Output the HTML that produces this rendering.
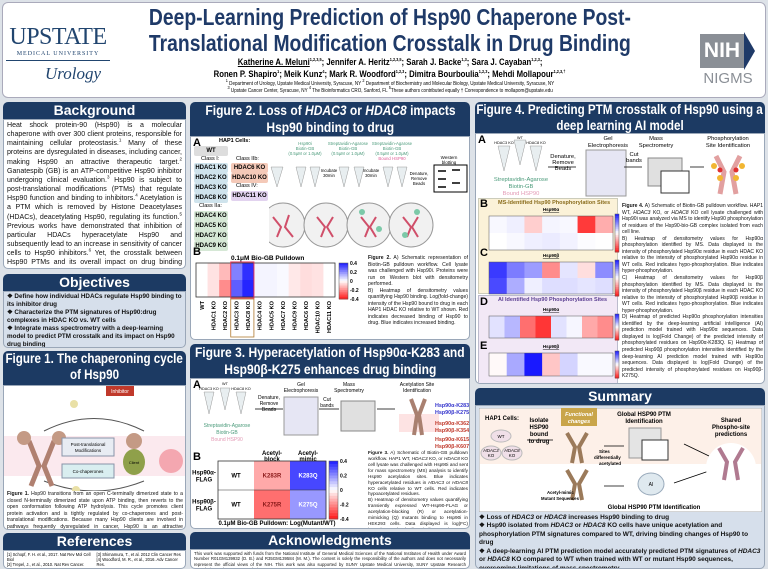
<!DOCTYPE html>
<html><head><meta charset="utf-8">
<style>
*{box-sizing:border-box;margin:0;padding:0}
body{width:768px;height:569px;overflow:hidden;background:#dde2e8;font-family:"Liberation Sans",sans-serif;position:relative}
sup{line-height:0;font-size:4.5px;vertical-align:super}
.abs{position:absolute}
.hdr{position:absolute;background:#1c3a63;color:#fff;font-weight:bold;text-align:center;border-radius:5px 5px 0 0;line-height:1.18;overflow:hidden}
.ln{display:flex;justify-content:center;white-space:nowrap}
.ln>span{display:inline-block;white-space:nowrap;transform:scaleX(.86);transform-origin:center;flex:none}
.pan{position:absolute;background:#fff;border:1px solid #9aa7b8;border-radius:0 0 5px 5px;overflow:hidden}
.txt{font-size:5.8px;line-height:1.3;text-align:justify;color:#111}
.body{font-size:8.2px;line-height:1.31;text-align:justify;color:#111}
.bul{font-size:7.6px;font-weight:bold;line-height:1.25;color:#111}
.tag{position:absolute;font-size:6px;font-weight:bold;text-align:center;border-radius:2px;height:10px;line-height:10px;white-space:nowrap}
</style></head><body>
<!-- Header -->
<div class="abs" style="left:2px;top:2px;width:764px;height:96px;background:#fff;border:1px solid #aab;border-radius:6px"></div>
<div class="abs" style="left:6px;top:24px;width:104px;text-align:center;color:#21456f">
 <div style="font-family:'Liberation Serif',serif;font-size:24px;letter-spacing:-0.5px">UPSTATE</div>
 <div style="font-family:'Liberation Serif',serif;font-size:6px;letter-spacing:1px;border-bottom:1px solid #21456f;padding-bottom:3px">MEDICAL UNIVERSITY</div>
 <div style="font-family:'Liberation Serif',serif;font-style:italic;font-size:17px;margin-top:3px;padding-left:30px">Urology</div>
</div>
<div class="abs" style="left:90px;top:4px;width:600px;color:#1f3a68;font-size:23px;font-weight:bold;line-height:26px"><div class="ln"><span style="transform:scaleX(.84)">Deep-Learning Prediction of Hsp90 Chaperone Post-</span></div><div class="ln"><span style="transform:scaleX(.84)">Translational Modification Crosstalk in Drug Binding</span></div></div>
<div class="abs" style="left:90px;top:56px;width:600px;font-size:9px;font-weight:bold;line-height:12px"><div class="ln"><span><u>Katherine A. Meluni</u><sup>1,2,3,5</sup>; Jennifer A. Heritz<sup>1,2,3,5</sup>; Sarah J. Backe<sup>1,3</sup>; Sara J. Cayaban<sup>1,2,3</sup>;</span></div><div class="ln"><span>Ronen P. Shapiro<sup>1</sup>; Meik Kunz<sup>4</sup>; Mark R. Woodford<sup>1,2,3</sup>; Dimitra Bourboulia<sup>1,2,3</sup>; Mehdi Mollapour<sup>1,2,3,†</sup></span></div></div>
<div class="abs" style="left:90px;top:81px;width:600px;font-size:5.3px;line-height:7px"><div class="ln"><span><sup>1</sup> Department of Urology, Upstate Medical University, Syracuse, NY <sup>2</sup> Department of Biochemistry and Molecular Biology, Upstate Medical University, Syracuse, NY</span></div><div class="ln"><span><sup>3</sup> Upstate Cancer Center, Syracuse, NY <sup>4</sup> The Bioinformatics CRO, Sanford, FL <sup>5</sup>These authors contributed equally † Correspondence to mollapom@upstate.edu</span></div></div>
<div class="abs" style="left:700px;top:34px;width:44px;height:34px;background:#8a8f96;color:#fff;font-size:21px;font-weight:bold;text-align:center;line-height:34px">NIH</div>
<div class="abs" style="left:744px;top:32px;width:0;height:0;border-top:19px solid transparent;border-bottom:19px solid transparent;border-left:11px solid #1f3a68"></div>
<div class="abs" style="left:698px;top:70px;width:60px;text-align:center;color:#8a8f96;font-size:15px">NIGMS</div>

<!-- Column 1 -->
<div class="hdr" style="left:3px;top:102px;width:183px;height:17px;font-size:14px">Background</div>
<div class="pan" style="left:3px;top:119px;width:183px;height:150px;padding:1px 3px"><div class="body" style="font-size:7.05px;line-height:1.3">Heat shock protein-90 (Hsp90) is a molecular chaperone with over 300 client proteins, responsible for maintaining cellular proteostasis.<sup>1</sup> Many of these proteins are dysregulated in diseases, including cancer, making Hsp90 an attractive therapeutic target.<sup>2</sup> Ganatespib (GB) is an ATP-competitive Hsp90 inhibitor undergoing clinical evaluation.<sup>3</sup> Hsp90 is subject to post-translational modifications (PTMs) that regulate Hsp90 function and binding to inhibitors.<sup>4</sup> Acetylation is a PTM which is removed by Histone Deacetylases (HDACs), deacetylating Hsp90, regulating its function.<sup>5</sup> Previous works have demonstrated that inhibition of particular HDACs hyperacetylate Hsp90 and subsequently lead to an increase in sensitivity of cancer cells to Hsp90 inhibitors.<sup>6</sup> Yet, the crosstalk between Hsp90 PTMs and its overall impact on drug binding remains largely unexplored.</div></div>
<div class="hdr" style="left:3px;top:274px;width:183px;height:17px;font-size:14px">Objectives</div>
<div class="pan" style="left:3px;top:291px;width:183px;height:57px;background:#d6dfeb;padding:1px 3px"><div class="bul" style="font-size:6.3px;line-height:1.27">❖ Define how individual HDACs regulate Hsp90 binding to its inhibitor drug<br>❖ Characterize the PTM signatures of Hsp90:drug complexes in HDAC KO vs. WT cells<br>❖ Integrate mass spectrometry with a deep-learning model to predict PTM crosstalk and its impact on Hsp90 drug binding</div></div>
<div class="hdr" style="left:3px;top:351px;width:183px;height:34px;font-size:13.5px"><div class="ln"><span>Figure 1. The chaperoning cycle</span></div><div class="ln"><span>of Hsp90</span></div></div>
<div class="pan" style="left:3px;top:385px;width:183px;height:145px">
 <svg class="abs" style="left:0;top:0" width="181" height="105">
  <rect x="0" y="50" width="181" height="40" fill="#fbe9ee"/>
  <rect x="102" y="-2" width="28" height="12" fill="#c0392b"/><text x="116" y="7" font-size="5" fill="#fff" text-anchor="middle">Inhibitor</text>
  <path d="M40 45 Q90 20 140 45" stroke="#555" fill="none"/>
  <path d="M40 95 Q90 115 140 95" stroke="#555" fill="none"/>
  <path d="M25 55 l10 25 l-8 20" stroke="#b08070" stroke-width="5" fill="none"/>
  <path d="M50 55 l-10 25 l8 20" stroke="#b08070" stroke-width="5" fill="none"/>
  <circle cx="20" cy="52" r="7" fill="#c49a85"/><circle cx="55" cy="52" r="7" fill="#c49a85"/>
  <rect x="58" y="52" width="52" height="18" fill="#e8ecf3" stroke="#8894a8"/><text x="84" y="60" font-size="4.5" text-anchor="middle">Post-translational</text><text x="84" y="66" font-size="4.5" text-anchor="middle">Modifications</text>
  <rect x="58" y="78" width="52" height="14" fill="#d9eef0" stroke="#8894a8"/><text x="84" y="87" font-size="4.5" text-anchor="middle">Co-chaperones</text>
  <circle cx="130" cy="55" r="8" fill="#c49a85"/><ellipse cx="130" cy="76" rx="11" ry="13" fill="#8fa04a"/><text x="130" y="78" font-size="4" text-anchor="middle">Client</text>
  <circle cx="167" cy="75" r="12" fill="#f4a7b0"/>
  <circle cx="70" cy="18" r="4" fill="#e9e0a6"/><circle cx="72" cy="104" r="4" fill="#e9e0a6"/>
 </svg>
 <div class="txt abs" style="left:3px;top:105px;width:176px;font-size:5.1px;line-height:1.28"><b>Figure 1.</b> Hsp90 transitions from an open C-terminally dimerized state to a closed N-terminally dimerized state upon ATP binding, then reverts to the open conformation following ATP hydrolysis. This cycle promotes client protein activation and is tightly regulated by co-chaperones and post-translational modifications. Because many Hsp90 clients are involved in pathways frequently dysregulated in cancer, Hsp90 is an attractive therapeutic target.</div>
</div>
<div class="hdr" style="left:3px;top:533px;width:183px;height:17px;font-size:14px">References</div>
<div class="pan" style="left:3px;top:550px;width:183px;height:19px;padding:1px 3px;font-size:4.1px;line-height:5px;columns:2">[1] Schopf, F. H. et al., 2017. Nat Rev Mol Cell Biol<br>[2] Trepel, J., et al., 2010. Nat Rev Cancer.<br>[3] Shimamura, T., et al. 2012 Clin Cancer Res<br>[4] Woodford, M. R., et al., 2016. Adv Cancer Res.<br>[5] Backe, S. J., et al., 2020. J Biol Chem.<br>[6] Nimmanapalli, R., et al., 2003. Cancer Res.</div>

<!-- Column 2 -->
<div class="hdr" style="left:190px;top:102px;width:280px;height:34px;font-size:14px"><div class="ln"><span>Figure 2. Loss of <i>HDAC3</i> or <i>HDAC8</i> impacts</span></div><div class="ln"><span>Hsp90 binding to drug</span></div></div>
<div class="pan" style="left:190px;top:136px;width:280px;height:204px">
 <div class="abs" style="left:2px;top:0;font-size:11px;font-weight:bold">A</div>
 <div class="abs" style="left:28px;top:1px;font-size:5.5px;font-weight:bold">HAP1 Cells:</div>
 <div class="tag" style="left:3px;top:9px;width:34px;background:#ddd">WT</div>
 <div class="abs" style="left:10px;top:19px;font-size:5.5px">Class I:</div>
 <div class="tag" style="left:3px;top:26px;width:34px;background:#cfe3ec">HDAC1 KO</div>
 <div class="tag" style="left:3px;top:36px;width:34px;background:#cfe3ec">HDAC2 KO</div>
 <div class="tag" style="left:3px;top:46px;width:34px;background:#cfe3ec">HDAC3 KO</div>
 <div class="tag" style="left:3px;top:56px;width:34px;background:#cfe3ec">HDAC8 KO</div>
 <div class="abs" style="left:8px;top:66px;font-size:5.5px">Class IIa:</div>
 <div class="tag" style="left:3px;top:74px;width:34px;background:#d6e8d6">HDAC4 KO</div>
 <div class="tag" style="left:3px;top:84px;width:34px;background:#d6e8d6">HDAC5 KO</div>
 <div class="tag" style="left:3px;top:94px;width:34px;background:#d6e8d6">HDAC7 KO</div>
 <div class="tag" style="left:3px;top:104px;width:34px;background:#d6e8d6">HDAC9 KO</div>
 <div class="abs" style="left:45px;top:19px;font-size:5.5px">Class IIb:</div>
 <div class="tag" style="left:40px;top:26px;width:37px;background:#f4c9b8">HDAC6 KO</div>
 <div class="tag" style="left:40px;top:36px;width:37px;background:#f4c9b8">HDAC10 KO</div>
 <div class="abs" style="left:45px;top:46px;font-size:5.5px">Class IV:</div>
 <div class="tag" style="left:40px;top:54px;width:37px;background:#e2d3ef">HDAC11 KO</div>
 <svg class="abs" style="left:78px;top:0" width="200" height="115">
  <g font-size="4.3" text-anchor="middle" fill="#4a9a7a"><text x="36" y="8">Hsp90i</text><text x="36" y="13">Biotin-GB</text><text x="36" y="18">(0.5μM or 1.0μM)</text>
  <text x="79" y="8">Streptavidin-Agarose</text><text x="79" y="13">Biotin-GB</text><text x="79" y="18">(0.5μM or 1.0μM)</text>
  <text x="123" y="8">Streptavidin-Agarose</text><text x="123" y="13">Biotin-GB</text><text x="123" y="18">(0.5μM or 1.0μM)</text><text x="123" y="23" fill="#e0609a">Bound HSP90</text></g>
  <g fill="#e8eef0" stroke="#999" stroke-width="0.5"><path d="M2 30h12l-6 20z"/><path d="M27 30h10l-5 20z"/><path d="M41 30h10l-5 20z"/><path d="M70 30h10l-5 20z"/><path d="M85 30h10l-5 20z"/><path d="M114 30h10l-5 20z"/><path d="M128 30h10l-5 20z"/></g>
  <rect x="165" y="28" width="33" height="27" fill="#fff" stroke="#000"/><g stroke="#000" stroke-width="1.5"><path d="M169 34h8M183 33h8M169 42h8M183 46h8M169 50h8"/></g>
  <text x="180" y="22" font-size="4.5" text-anchor="middle">Western</text><text x="180" y="27" font-size="4.5" text-anchor="middle">blotting</text>
  <g font-size="4.3" text-anchor="middle"><text x="60" y="35">Incubate</text><text x="60" y="40">30min</text><text x="102" y="35">Incubate</text><text x="102" y="40">30min</text><text x="150" y="38">Denature,</text><text x="150" y="43">Remove</text><text x="150" y="48">Beads</text></g>
  <g fill="#f1f1f1" stroke="#999"><circle cx="14" cy="88" r="22"/><circle cx="57" cy="88" r="22"/><circle cx="100" cy="88" r="22"/><circle cx="142" cy="88" r="22"/></g>
  <g stroke="#d04f6a" stroke-width="2" fill="none"><path d="M4 80l8 10l-4 10M20 78l-4 12l8 10M48 80l8 10l-4 10M64 80l-6 10l6 10M92 80l8 10l-4 10M107 80l-6 10l6 10M134 80l8 10l-4 10M149 80l-6 10l6 10"/></g>
  <g fill="#7cc9a8"><circle cx="93" cy="75" r="3"/><circle cx="110" cy="92" r="3"/><circle cx="148" cy="75" r="3"/><circle cx="136" cy="98" r="3"/></g>
 </svg>
 <div class="abs" style="left:2px;top:109px;font-size:11px;font-weight:bold">B</div>
 <div class="abs" style="left:40px;top:118px;font-size:6.5px;font-weight:bold">0.1μM Bio-GB Pulldown</div>
 <svg class="abs" id="fig2svg" style="left:0;top:124px" width="170" height="80"></svg>
 <div class="txt abs" style="left:177px;top:118px;width:100px;font-size:5.1px;line-height:1.28"><b>Figure 2.</b> A) Schematic representation of Biotin-GB pulldown workflow. Cell lysate was challenged with Hsp90i. Proteins were run on Western blot with densitometry performed.<br>B) Heatmap of densitometry values quantifying Hsp90 binding. Log(fold-change) intensity of the Hsp90 bound to drug in each HAP1 HDAC KO relative to WT shown. Red indicates decreased binding of Hsp90 to drug. Blue indicates increased binding.</div>
</div>
<div class="hdr" style="left:190px;top:344px;width:280px;height:34px;font-size:14px"><div class="ln"><span>Figure 3. Hyperacetylation of Hsp90α-K283 and</span></div><div class="ln"><span>Hsp90β-K275 enhances drug binding</span></div></div>
<div class="pan" style="left:190px;top:378px;width:280px;height:151px">
 <div class="abs" style="left:2px;top:0;font-size:11px;font-weight:bold">A</div>
 <svg class="abs" style="left:0;top:0" width="278" height="70">
  <g font-size="3.8" text-anchor="middle"><text x="34" y="6">WT</text><text x="18" y="11">HDAC3 KO</text><text x="50" y="11">HDAC8 KO</text></g>
  <g fill="#e8eef0" stroke="#999" stroke-width="0.5"><path d="M13 13h10l-5 22z"/><path d="M29 9h10l-5 22z"/><path d="M45 13h10l-5 22z"/></g>
  <g font-size="5" text-anchor="middle"><text x="36" y="48" fill="#4a9a7a">Streptavidin-Agarose</text><text x="36" y="55" fill="#4a9a7a">Biotin-GB</text><text x="36" y="62" fill="#e39ab5">Bound HSP90</text>
  <text x="78" y="20">Denature,</text><text x="78" y="26">Remove</text><text x="78" y="32">Beads</text>
  <text x="110" y="7">Gel</text><text x="110" y="13">Electrophoresis</text><text x="158" y="7">Mass</text><text x="158" y="13">Spectrometry</text>
  <text x="136" y="22">Cut</text><text x="136" y="28">bands</text><text x="226" y="7">Acetylation Site</text><text x="226" y="13">Identification</text></g>
  <rect x="93" y="18" width="34" height="38" fill="#e6e6f4" stroke="#999"/>
  <rect x="150" y="22" width="34" height="30" fill="#e0e0e0" stroke="#888"/>
  <path d="M64 30h28M128 30h20M186 30h18" stroke="#000" stroke-width="0.8"/>
  <rect x="208" y="35" width="40" height="18" fill="#fde3e3"/>
  <path d="M220 20l6 16l-3 20M234 20l-6 16l3 20" stroke="#a98070" stroke-width="4" fill="none"/>
  <g font-size="5.4" font-weight="bold"><text x="244" y="28" fill="#3333cc">Hsp90α-K283;</text><text x="244" y="35" fill="#3333cc">Hsp90β-K275</text>
  <text x="244" y="46" fill="#c0392b">Hsp90α-K362;</text><text x="244" y="53" fill="#c0392b">Hsp90β-K354</text>
  <text x="244" y="62" fill="#c0392b">Hsp90α-K615;</text><text x="244" y="69" fill="#c0392b">Hsp90β-K607</text></g>
 </svg>
 <div class="abs" style="left:2px;top:72px;font-size:11px;font-weight:bold">B</div>
 <svg class="abs" id="fig3svg" style="left:0;top:70px" width="172" height="81"></svg>
 <div class="txt abs" style="left:177px;top:71px;width:100px;font-size:4.7px;line-height:1.26"><b>Figure 3.</b> A) Schematic of Biotin-GB pulldown workflow. HAP1 WT, <i>HDAC3</i> KO, or <i>HDAC8</i> KO cell lysate was challenged with Hsp90i and sent for mass spectrometry (MS) analysis to identify Hsp90 acetylation sites. Blue indicates hyperacetylated residues in <i>HDAC3</i> or <i>HDAC8</i> KO cells relative to WT cells. Red indicates hypoacetylated residues.<br>B) Heatmap of densitometry values quantifying transiently expressed WT-Hsp90-FLAG or acetylation-blocking (R) or acetylation-mimicking (Q) mutants binding to Hsp90i in HEK293 cells. Data displayed is log(FC) intensity Red shading indicates decreased binding to Hsp90i. Blue indicates increased binding.</div>
</div>
<div class="hdr" style="left:190px;top:532px;width:280px;height:17px;font-size:14px">Acknowledgments</div>
<div class="pan" style="left:190px;top:549px;width:280px;height:20px;padding:1px 3px"><div class="txt" style="font-size:4.3px;line-height:1.25">This work was supported with funds from the National Institute of General Medical Sciences of the National Institutes of Health under Award Number R01GM139932 (D. B.) and R35GM139584 (M. M.). The content is solely the responsibility of the authors and does not necessarily represent the official views of the NIH. This work was also supported by SUNY Upstate Medical University, SUNY Upstate Research Foundation and Upstate Foundation.</div></div>

<!-- Column 3 -->
<div class="hdr" style="left:475px;top:102px;width:290px;height:31px;font-size:13.5px"><div class="ln"><span>Figure 4. Predicting PTM crosstalk of Hsp90 using a</span></div><div class="ln"><span>deep learning AI model</span></div></div>
<div class="pan" style="left:475px;top:133px;width:290px;height:251px">
 <div class="abs" style="left:2px;top:0;font-size:11px;font-weight:bold">A</div>
 <svg class="abs" style="left:0;top:0" width="288" height="64">
  <g font-size="3.8" text-anchor="middle"><text x="44" y="5">WT</text><text x="28" y="10">HDAC3 KO</text><text x="60" y="10">HDAC8 KO</text></g>
  <g fill="#e8eef0" stroke="#999" stroke-width="0.5"><path d="M22 12h12l-6 25z"/><path d="M38 6h12l-6 25z"/><path d="M54 12h12l-6 25z"/></g>
  <g font-size="5.8" text-anchor="middle"><text x="45" y="47" fill="#4a9a7a">Streptavidin-Agarose</text><text x="45" y="54" fill="#4a9a7a">Biotin-GB</text><text x="45" y="61" fill="#e39ab5">Bound HSP90</text>
  <text x="87" y="24">Denature,</text><text x="87" y="30">Remove</text><text x="87" y="36">Beads</text>
  <text x="132" y="6">Gel</text><text x="132" y="13">Electrophoresis</text><text x="180" y="6">Mass</text><text x="180" y="13">Spectrometry</text>
  <text x="158" y="22">Cut</text><text x="158" y="28">bands</text><text x="252" y="6">Phosphorylation</text><text x="252" y="13">Site Identification</text></g>
  <rect x="110" y="16" width="40" height="46" fill="#e6e6f4" stroke="#999"/>
  <rect x="172" y="24" width="34" height="28" fill="#e0e0e0" stroke="#888"/><rect x="185" y="37" width="28" height="22" fill="#fff" stroke="#333"/>
  <path d="M72 33h28M148 33h18M214 33h14" stroke="#000" stroke-width="0.8"/>
  <path d="M240 22l8 16l-4 22M264 22l-8 16l4 22" stroke="#e2a0a0" stroke-width="5" fill="none"/>
  <g fill="#f2b632"><circle cx="238" cy="32" r="3"/><circle cx="266" cy="32" r="3"/><circle cx="244" cy="44" r="3"/><circle cx="260" cy="44" r="3"/></g>
  <g fill="#e03030"><circle cx="244" cy="36" r="2.5"/><circle cx="260" cy="36" r="2.5"/></g>
 </svg>
 <div class="abs" style="left:2px;top:64px;width:140px;height:96px;background:#fbf2d8;border:1px solid #ccb"></div>
 <div class="abs" style="left:2px;top:161px;width:140px;height:89px;background:#f2e8f6;border:1px solid #bbc"></div>
 <div class="abs" style="left:4px;top:64px;font-size:11px;font-weight:bold">B</div>
 <div class="abs" style="left:4px;top:113px;font-size:11px;font-weight:bold">C</div>
 <div class="abs" style="left:4px;top:162px;font-size:11px;font-weight:bold">D</div>
 <div class="abs" style="left:4px;top:206px;font-size:11px;font-weight:bold">E</div>
 <div class="abs" style="left:22px;top:66px;font-size:5.5px;font-weight:bold;color:#8a6d1d">MS-Identified Hsp90 Phosphorylation Sites</div>
 <div class="abs" style="left:22px;top:163px;font-size:5.5px;font-weight:bold;color:#5b3f92">AI Identified Hsp90 Phosphorylation Sites</div>
 <svg class="abs" id="fig4svg" style="left:0;top:64px" width="144" height="186"></svg>
 <div class="txt abs" style="left:146px;top:69px;width:141px;font-size:5.05px;line-height:1.3"><b>Figure 4.</b> A) Schematic of Biotin-GB pulldown workflow. HAP1 WT, <i>HDAC3</i> KO, or <i>HDAC8</i> KO cell lysate challenged with Hsp90i was analyzed via MS to identify Hsp90 phosphorylation of residues of the Hsp90-bio-GB complex isolated from each cell line.<br>B) Heatmap of densitometry values for Hsp90α phosphorylation identified by MS. Data displayed is the intensity of phosphorylated Hsp90α residue in each HDAC KO relative to the intensity of phosphorylated Hsp90α residue in WT cells. Red indicates hypo-phosphorylation. Blue indicates hyper-phosphorylation.<br>C) Heatmap of densitometry values for Hsp90β phosphorylation identified by MS. Data displayed is the intensity of phosphorylated Hsp90β residue in each HDAC KO relative to the intensity of phosphorylated Hsp90β residue in WT cells. Red indicates hypo-phosphorylation. Blue indicates hyper-phosphorylation.<br>D) Heatmap of predicted Hsp90α phosphorylation intensities identified by the deep-learning artificial intelligence (AI) prediction model trained with Hsp90α sequences. Data displayed is log(Fold Change) of the predicted intensity of phosphorylated residues on Hsp90α-K283Q. E) Heatmap of predicted Hsp90β phosphorylation intensities identified by the deep-learning AI prediction model trained with Hsp90α sequences. Data displayed is log(Fold Change) of the predicted intensity of phosphorylated residues on Hsp90β-K275Q.</div>
</div>
<div class="hdr" style="left:475px;top:388px;width:290px;height:17px;font-size:14px">Summary</div>
<div class="pan" style="left:475px;top:405px;width:290px;height:164px;background:#d6dfeb">
 <svg class="abs" style="left:3px;top:2px" width="283" height="104">
  <rect x="0" y="0" width="283" height="104" fill="#fff" stroke="#aaa"/>
  <rect x="1" y="1" width="281" height="55" fill="#fdf0e8"/>
  <g font-size="6" font-weight="bold"><text x="6" y="12">HAP1 Cells:</text><text x="60" y="14" text-anchor="middle">Isolate</text><text x="60" y="21" text-anchor="middle">HSP90</text><text x="60" y="28" text-anchor="middle">bound</text><text x="60" y="35" text-anchor="middle">to drug</text>
  <text x="165" y="8" text-anchor="middle">Global HSP90 PTM</text><text x="165" y="15" text-anchor="middle">Identification</text>
  <text x="252" y="14" text-anchor="middle">Shared</text><text x="252" y="21" text-anchor="middle">Phospho-site</text><text x="252" y="28" text-anchor="middle">predictions</text>
  <text x="175" y="101" text-anchor="middle">Global HSP90 PTM Identification</text></g>
  <rect x="82" y="0" width="36" height="18" fill="#c9a54a"/><text x="100" y="8" font-size="5.5" fill="#fff" font-style="italic" font-weight="bold" text-anchor="middle">Functional</text><text x="100" y="15" font-size="5.5" fill="#fff" font-style="italic" font-weight="bold" text-anchor="middle">changes</text>
  <ellipse cx="22" cy="28" rx="10" ry="6" fill="#f0dfe8" stroke="#bbb"/><text x="22" y="30" font-size="4.5" text-anchor="middle">WT</text>
  <ellipse cx="12" cy="45" rx="10" ry="7" fill="#f0dfe8" stroke="#bbb"/><text x="12" y="44" font-size="4.5" text-anchor="middle" font-style="italic">HDAC3</text><text x="12" y="49" font-size="4.5" text-anchor="middle">KO</text>
  <ellipse cx="33" cy="45" rx="10" ry="7" fill="#f0dfe8" stroke="#bbb"/><text x="33" y="44" font-size="4.5" text-anchor="middle" font-style="italic">HDAC8</text><text x="33" y="49" font-size="4.5" text-anchor="middle">KO</text>
  <path d="M48 32h26M125 38h20M205 36l25 12M195 75l35-12" stroke="#000" stroke-width="0.8"/>
  <path d="M88 25l8 14l-3 16M108 25l-8 14l3 16" stroke="#9b7a5a" stroke-width="4" fill="none"/>
  <text x="120" y="45" font-size="4.5" font-weight="bold">Sites</text><text x="115" y="51" font-size="4.5" font-weight="bold">differentially</text><text x="120" y="57" font-size="4.5" font-weight="bold">acetylated</text>
  <rect x="150" y="20" width="32" height="30" fill="#e4e4e4" stroke="#999"/><rect x="163" y="32" width="26" height="20" fill="#fff" stroke="#333"/>
  <circle cx="252" cy="60" r="25" fill="#fff"/>
  <path d="M240 40l8 14l-3 18M264 40l-8 14l3 18" stroke="#b07a90" stroke-width="4" fill="none"/>
  <path d="M88 62l8 14l-3 16M108 62l-8 14l3 16" stroke="#9b7a5a" stroke-width="4" fill="none"/>
  <text x="68" y="86" font-size="4.3" font-weight="bold">Acetyl-mimic</text><text x="62" y="92" font-size="4.3" font-weight="bold">Mutant Sequences</text>
  <path d="M125 78h20" stroke="#000" stroke-width="0.8"/>
  <ellipse cx="172" cy="76" rx="13" ry="11" fill="#dfe9ef" stroke="#9ab"/><text x="172" y="78" font-size="5" text-anchor="middle">AI</text>
 </svg>
 <div class="bul abs" style="left:3px;top:108px;width:285px;font-size:6.5px;line-height:1.3">❖ Loss of <i>HDAC3</i> or <i>HDAC8</i> increases Hsp90 binding to drug<br>❖ Hsp90 isolated from <i>HDAC3</i> or <i>HDAC8</i> KO cells have unique acetylation and phosphorylation PTM signatures compared to WT, driving binding changes of Hsp90 to drug<br>❖ A deep-learning AI PTM prediction model accurately predicted PTM signatures of <i>HDAC3</i> or <i>HDAC8</i> KO compared to WT when trained with WT or mutant Hsp90 sequences, overcoming limitations of mass spectrometry</div>
</div>

<script>
// ---- data ----
const fig2Categories = ["WT","HDAC1 KO","HDAC2 KO","HDAC3 KO","HDAC8 KO","HDAC4 KO","HDAC5 KO","HDAC7 KO","HDAC9 KO","HDAC6 KO","HDAC10 KO","HDAC11 KO"];
const fig2Row1 = [0, -0.05, -0.12, 0.22, 0.36, 0.02, 0.02, 0.01, -0.04, -0.06, -0.05, 0.0];
const fig2Row2 = [0, -0.05, -0.2, 0.28, 0.38, 0.02, 0.02, 0.01, -0.04, -0.06, -0.05, 0.0];
const fig2Ticks = [0.4, 0.2, 0, -0.2, -0.4];
const fig3Rows = ["Hsp90α-FLAG","Hsp90β-FLAG"];
const fig3Cols = ["WT","K283R","K283Q"];
const fig3Labels = [["WT","K283R","K283Q"],["WT","K275R","K275Q"]];
const fig3Alpha = [0, -0.15, 0.32];
const fig3Beta = [0, -0.25, 0.18];
const fig3Ticks = [0.4, 0.2, 0, -0.2, -0.4];
const fig4B_HDAC3 = [0.02, 0.05, -0.15, 0.03, 0.02, -0.6, -0.25];
const fig4B_HDAC8 = [0.0, 0.02, 0.05, 0.06, 0.04, 0.01, 0.0];
const fig4C_HDAC3 = [0.6, 0.4, 0.3, -0.35, 0.08, -0.1, 0.35];
const fig4C_HDAC8 = [0.55, 0.25, 0.05, 0.1, 0.1, 0.08, 0.1];
const fig4D_K283Q = [0.1, 0.25, -0.5, -0.7, 0.1, 0.03, -0.3, -0.4];
const fig4E_K275Q = [-0.02, 0.3, 0.8, -0.2, 0.15, 0.02, 0.02];

const NS = "http://www.w3.org/2000/svg";
function mk(svg, tag, attrs){const e=document.createElementNS(NS,tag);for(const k in attrs)e.setAttribute(k,attrs[k]);svg.appendChild(e);return e;}
function color(v, max){
  let t=Math.max(-1,Math.min(1,v/max));
  if(t>=0){const r=Math.round(255-t*230),g=Math.round(255-t*230);return `rgb(${r},${g},255)`;}
  t=-t;return `rgb(255,${Math.round(255-t*230)},${Math.round(255-t*230)})`;
}
function colorbar(svg,x,y,w,h,ticks,max,name){
  const n=20;
  for(let i=0;i<n;i++){const v=max-(2*max)*(i+0.5)/n;
    const r=mk(svg,"rect",{x:x,y:y+i*h/n,width:w,height:h/n+0.5,fill:color(v,max)});
    
    }
  mk(svg,"rect",{x:x,y:y,width:w,height:h,fill:"none",stroke:"#555","stroke-width":0.5});
  ticks.forEach(t=>{const ty=y+(max-t)/(2*max)*h;
    const tx=mk(svg,"text",{x:x+w+2,y:ty+2,"font-size":5,"font-weight":"bold"});tx.textContent=t;
    
    });
}
function heatRow(svg,vals,x0,y,w,h,max,name){
  const cw=w/vals.length;
  vals.forEach((v,i)=>{const r=mk(svg,"rect",{x:x0+i*cw,y:y,width:cw+0.3,height:h,fill:color(v,max)});
    
    });
}
// Figure 2B
(function(){
  const s=document.getElementById("fig2svg");
  const x0=5,y0=2,w=139,h=34,cw=w/fig2Categories.length;
  heatRow(s,fig2Row1,x0,y0,w,h/2,0.4,'fig2-row1');
  heatRow(s,fig2Row2,x0,y0+h/2,w,h/2,0.4,'fig2-row2');
  mk(s,"rect",{x:x0,y:y0,width:w,height:h,fill:"none",stroke:"#333","stroke-width":0.8});
  mk(s,"rect",{x:x0+3*cw,y:y0-1,width:2*cw,height:h+2,fill:"none",stroke:"#e0305a","stroke-width":1});
  mk(s,"rect",{x:x0+3*cw,y:y0+h+2,width:2*cw,height:38,fill:"none",stroke:"#b07a30","stroke-width":0.8});
  fig2Categories.forEach((c,i)=>{const t=mk(s,"text",{transform:`translate(${x0+i*cw+cw/2+2},${y0+h+4}) rotate(-90)`,"font-size":5.6,"font-weight":"bold","text-anchor":"end"});t.textContent=c;
    
    });
  colorbar(s,148,y0,9,36,fig2Ticks,0.4,'fig2-colorbar');
})();
// Figure 3B
(function(){
  const s=document.getElementById("fig3svg");
  const x0=27,y0=12,w=108,h=58,cw=w/3;
  const t1=mk(s,"text",{x:x0+cw*1.5,y:6,"font-size":6,"font-weight":"bold","text-anchor":"middle"});t1.textContent="Acetyl-";
  const t2=mk(s,"text",{x:x0+cw*1.5,y:12,"font-size":6,"font-weight":"bold","text-anchor":"middle"});t2.textContent="block";
  const t3=mk(s,"text",{x:x0+cw*2.5,y:6,"font-size":6,"font-weight":"bold","text-anchor":"middle"});t3.textContent="Acetyl-";
  const t4=mk(s,"text",{x:x0+cw*2.5,y:12,"font-size":6,"font-weight":"bold","text-anchor":"middle"});t4.textContent="mimic";
  [fig3Alpha,fig3Beta].forEach((row,r)=>{
    heatRow(s,row,x0,y0+r*h/2,w,h/2,0.4,'fig3-row'+(r+1));
    row.forEach((v,i)=>{const t=mk(s,"text",{x:x0+i*cw+cw/2,y:y0+r*h/2+h/4+2,"font-size":6,"font-weight":"bold","text-anchor":"middle",fill:i==0?"#000":(v<0?"#8b1a1a":"#fff")});t.textContent=fig3Labels[r][i];
      
      });
    const parts=fig3Rows[r].split("-");
    const a=mk(s,"text",{x:13,y:y0+r*h/2+h/4-1,"font-size":6,"font-weight":"bold","text-anchor":"middle"});a.textContent=parts[0]+"-";
    const b=mk(s,"text",{x:13,y:y0+r*h/2+h/4+6,"font-size":6,"font-weight":"bold","text-anchor":"middle"});b.textContent=parts[1];
  });
  mk(s,"rect",{x:x0,y:y0,width:w,height:h,fill:"none",stroke:"#333","stroke-width":0.8});
  mk(s,"line",{x1:x0,y1:y0+h/2,x2:x0+w,y2:y0+h/2,stroke:"#333","stroke-width":0.6});
  colorbar(s,138,y0,9,h,fig3Ticks,0.4,'fig3-colorbar');
  const c=mk(s,"text",{x:86,y:y0+h+6,"font-size":6,"font-weight":"bold","text-anchor":"middle"});c.textContent="0.1μM Bio-GB Pulldown: Log(Mutant/WT)";
})();
// Figure 4 heatmaps
(function(){
  const s=document.getElementById("fig4svg");
  const x0=13,w=124;
  function block(rows,y,h,max,name,title){
    const t=mk(s,"text",{x:x0+w/2,y:y-5,"font-size":4.5,"font-weight":"bold","text-anchor":"middle","text-decoration":"underline"});t.textContent=title;
    rows.forEach((r,i)=>heatRow(s,r,x0,y+i*h/rows.length,w,h/rows.length,max,name));
    mk(s,"rect",{x:x0,y:y,width:w,height:h,fill:"none",stroke:"#555","stroke-width":0.5});
    colorbar(s,x0+w+2,y-2,4,h+4,[],max,name+'-colorbar');
  }
  block([fig4B_HDAC3,fig4B_HDAC8],18,34,0.7,'fig4b','Hsp90α');
  block([fig4C_HDAC3,fig4C_HDAC8],64,32,0.7,'fig4c','Hsp90β');
  block([fig4D_K283Q],118,22,0.8,'fig4d','Hsp90α');
  block([fig4E_K275Q],155,23,0.8,'fig4e','Hsp90β');
})();
</script>
</body></html>
